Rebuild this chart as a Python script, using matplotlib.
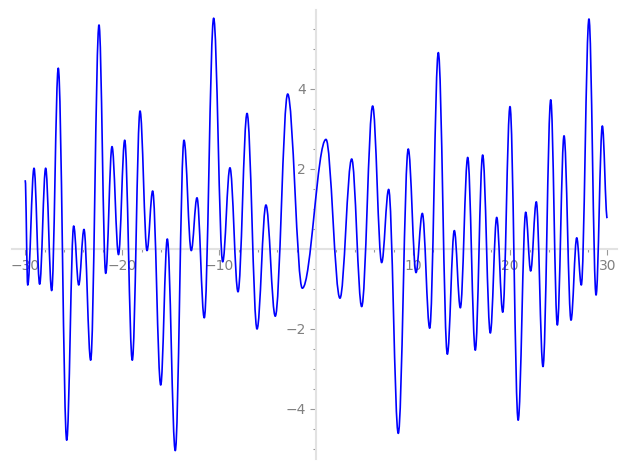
import numpy as np
import matplotlib
matplotlib.use('Agg')
import matplotlib.pyplot as plt
from matplotlib.path import Path
from matplotlib.patches import PathPatch
from matplotlib.ticker import FixedLocator


# turning points of the curve (x, f(x))
x_pts = [-30.0, -29.74, -29.09, -28.51, -27.89, -27.27, -26.59, -25.72, -25.0, -24.48,
         -23.94, -23.25, -22.39, -21.70, -21.05, -20.38, -19.74, -18.96, -18.16, -17.44,
         -16.86, -16.03, -15.35, -14.53, -13.63, -12.88, -12.29, -11.54, -10.57, -9.64,
         -8.89, -8.06, -7.13, -6.10, -5.18, -4.22, -2.94, -1.43, 1.01, 2.45,
         3.66, 4.69, 5.82, 6.75, 7.47, 8.46, 9.49, 10.29, 10.94, 11.70,
         12.59, 13.52, 14.24, 14.86, 15.62, 16.40, 17.16, 17.95, 18.61, 19.23,
         19.98, 20.82, 21.60, 22.11, 22.69, 23.38, 24.18, 24.86, 25.55, 26.27,
         26.86, 27.33, 28.12, 28.85, 29.50, 30.0]
y_pts = [1.72, -0.90, 2.02, -0.88, 2.02, -1.04, 4.52, -4.78, 0.575, -0.90,
         0.49, -2.78, 5.60, -0.61, 2.56, -0.14, 2.72, -2.78, 3.45, -0.04,
         1.45, -3.40, 0.25, -5.04, 2.72, -0.04, 1.28, -1.72, 5.77, -0.32,
         2.03, -1.07, 3.39, -2.00, 1.10, -1.68, 3.875, -0.98, 2.74, -1.23,
         2.25, -1.44, 3.575, -0.34, 1.49, -4.61, 2.50, -0.59, 0.89, -1.98,
         4.91, -2.63, 0.46, -1.47, 2.29, -2.53, 2.35, -2.10, 0.79, -1.58,
         3.56, -4.28, 0.92, -0.55, 1.18, -2.94, 3.73, -1.90, 2.83, -1.78,
         0.28, -0.90, 5.75, -1.15, 3.075, 0.77]

x_major = [-30, -20, -10, 10, 20, 30]
y_major = [-4, -2, 2, 4]


def smooth_path(xs, ys, k=0.364):
    # cubic bezier between turning points, flat tangent at each of them
    verts = [(xs[0], ys[0])]
    codes = [Path.MOVETO]
    for x0, y0, x1, y1 in zip(xs[:-1], ys[:-1], xs[1:], ys[1:]):
        dx = x1 - x0
        verts += [(x0 + k*dx, y0), (x1 - k*dx, y1), (x1, y1)]
        codes += [Path.CURVE4]*3
    return Path(verts, codes)


def main():
    fig = plt.figure(figsize=(6.27, 4.70), dpi=100)
    ax = fig.add_axes([12/627, 11/470, 605/627, 449/470])

    ax.add_patch(PathPatch(smooth_path(x_pts, y_pts), fill=False,
                           edgecolor='#0000ff', lw=1.2, joinstyle='round',
                           zorder=3))

    ax.set_xlim(-31.36, 31.01)
    ax.set_ylim(-5.25, 5.975)

    for s in ('top', 'right'):
        ax.spines[s].set_visible(False)
    for s in ('left', 'bottom'):
        ax.spines[s].set_position(('data', 0))
        ax.spines[s].set_color('#e2e2e2')
        ax.spines[s].set_linewidth(1.5)

    ax.xaxis.set_major_locator(FixedLocator(x_major))
    ax.xaxis.set_minor_locator(FixedLocator(np.arange(-30, 31, 2)))
    ax.yaxis.set_major_locator(FixedLocator(y_major))
    ax.yaxis.set_minor_locator(FixedLocator(np.arange(-5, 5.6, 0.5)))

    ax.tick_params(which='both', direction='out', color='#999999', width=0.8,
                   labelcolor='#808080', labelsize=10)
    ax.tick_params(which='major', length=4)
    ax.tick_params(which='minor', length=2)

    fig.savefig("out.png", dpi=100)


if __name__ == "__main__":
    main()
